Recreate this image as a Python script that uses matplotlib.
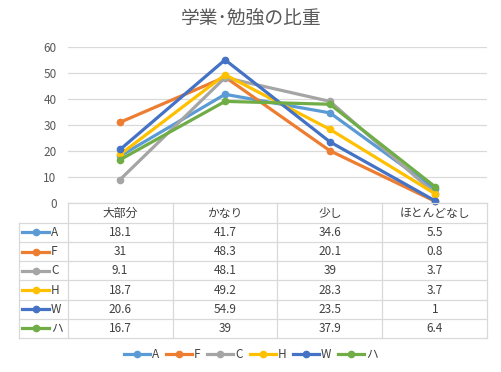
import matplotlib
matplotlib.use("Agg")
import matplotlib.pyplot as plt
from matplotlib.lines import Line2D

plt.rcParams['font.family'] = ['Noto Sans CJK JP', 'DejaVu Sans']

categories = ["大部分", "かなり", "少し", "ほとんどなし"]
series_names = ["A", "F", "C", "H", "W", "ハ"]
A = [18.1, 41.7, 34.6, 5.5]
F = [31, 48.3, 20.1, 0.8]
C = [9.1, 48.1, 39, 3.7]
H = [18.7, 49.2, 28.3, 3.7]
W = [20.6, 54.9, 23.5, 1]
HA = [16.7, 39, 37.9, 6.4]
series_values = [A, F, C, H, W, HA]
colors = ["#5B9BD5", "#ED7D31", "#A5A5A5", "#FFC000", "#4472C4", "#70AD47"]
yticks = [0, 10, 20, 30, 40, 50, 60]
title = "学業･勉強の比重"

W_PX, H_PX = 502, 372
fig = plt.figure(figsize=(W_PX / 100, H_PX / 100), dpi=100)

def fx(x):
    return x / W_PX

def fy(y):
    return 1 - y / H_PX

left, right, top, bottom = 67.7, 487.3, 46.5, 203.3
ax = fig.add_axes([fx(left), fy(bottom), fx(right) - fx(left), fy(top) - fy(bottom)])
ax.set_xlim(-0.5, len(categories) - 0.5)
ax.set_ylim(0, 60)
ax.set_yticks(yticks)
ax.set_yticklabels([str(t) for t in yticks], color="#595959", fontsize=8.5)
ax.tick_params(axis='y', length=0, pad=8)
ax.set_xticks([])
for s in ax.spines.values():
    s.set_visible(False)
ax.grid(axis='y', color="#D9D9D9", linewidth=0.9)
ax.set_axisbelow(True)

xs = list(range(len(categories)))
for name, vals, col in zip(series_names, series_values, colors):
    ax.plot(xs, vals, color=col, linewidth=2.3, marker='o', markersize=4.5,
            label=name, clip_on=False, zorder=3)

fig.text(0.5, fy(18), title, ha='center', va='center', fontsize=13.5, color="#595959")

# table
grid_col = "#D9D9D9"
txt_col = "#404040"
col_w = (right - left) / len(categories)
row_tops = [203.3, 222.7, 242.0, 261.2, 280.4, 299.6, 318.8, 338.0]
lab_left = 19.3

def hline(x0, x1, y):
    fig.add_artist(Line2D([fx(x0), fx(x1)], [fy(y), fy(y)], color=grid_col, lw=0.9,
                          transform=fig.transFigure))

def vline(x, y0, y1):
    fig.add_artist(Line2D([fx(x), fx(x)], [fy(y0), fy(y1)], color=grid_col, lw=0.9,
                          transform=fig.transFigure))

hline(left, right, row_tops[0])
for y in row_tops[1:]:
    hline(lab_left, right, y)
for i in range(len(categories) + 1):
    vline(left + i * col_w, row_tops[0], row_tops[-1])
vline(lab_left, row_tops[1], row_tops[-1])

for i, cat in enumerate(categories):
    cx = left + (i + 0.5) * col_w
    fig.text(fx(cx), fy((row_tops[0] + row_tops[1]) / 2), cat, ha='center', va='center',
             fontsize=8.5, color=txt_col)
for r, (name, vals, col) in enumerate(zip(series_names, series_values, colors)):
    cy = (row_tops[r + 1] + row_tops[r + 2]) / 2
    for i, v in enumerate(vals):
        cx = left + (i + 0.5) * col_w
        fig.text(fx(cx), fy(cy), f"{v:g}", ha='center', va='center', fontsize=8.5, color=txt_col)
    fig.add_artist(Line2D([fx(22), fx(49)], [fy(cy), fy(cy)], color=col, lw=2.3,
                          transform=fig.transFigure))
    fig.add_artist(Line2D([fx(35.5)], [fy(cy)], color=col, marker='o', markersize=4.5,
                          transform=fig.transFigure))
    fig.text(fx(51), fy(cy), name, ha='left', va='center', fontsize=8.5, color=txt_col)

handles, labels = ax.get_legend_handles_labels()
leg = fig.legend(handles, labels, loc='center', bbox_to_anchor=(fx(251), fy(355)), ncol=6,
                 frameon=False, fontsize=8.5, handlelength=2.2, columnspacing=0.6,
                 handletextpad=0.15, labelcolor=txt_col)

fig.savefig("out.png", dpi=100)
